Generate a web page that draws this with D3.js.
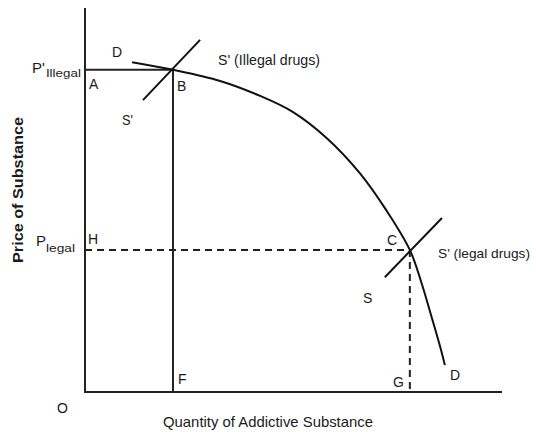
<!DOCTYPE html>
<html><head><meta charset="utf-8">
<script src="https://cdn.jsdelivr.net/npm/d3@7"></script>
<style>
body{margin:0;background:#fff;}
text{font-family:"Liberation Sans Narrow","Arial Narrow","Liberation Sans",Arial,sans-serif;fill:#1a1a1a;}
</style></head>
<body>
<svg id="c" width="536" height="432"></svg>
<script>
// Demand curve (quantity, price) in abstract units
const demandQ = [11.3, 21.1, 32.4, 42.0, 49.9, 58.0, 65.9, 72.4, 77.9, 80.7, 83.1, 85.4, 86.3];
const demandP = [85.9, 83.9, 81.0, 77.1, 72.9, 66.1, 57.0, 47.1, 37.0, 28.4, 19.6, 10.9, 7.0];
// Supply segments
const supplyIllegalQ = [13.9, 27.6];
const supplyIllegalP = [76.0, 91.7];
const supplyLegalQ = [71.9, 85.6];
const supplyLegalP = [29.9, 45.3];
// Equilibria
const pointB = {q: 21.1, p: 83.9};
const pointC = {q: 77.9, p: 37.0};

const svg = d3.select("#c");
const x = d3.scaleLinear().domain([0, 100]).range([85, 502]);
const y = d3.scaleLinear().domain([0, 100]).range([392, 8]);
const ink = "#222";

// axes
svg.append("line").attr("x1", x(0)).attr("x2", x(0)).attr("y1", y(100)).attr("y2", y(0))
  .attr("stroke", ink).attr("stroke-width", 2);
svg.append("line").attr("x1", x(0) - 1).attr("x2", x(100)).attr("y1", y(0)).attr("y2", y(0))
  .attr("stroke", ink).attr("stroke-width", 2);

// illegal price lines (solid)
svg.append("line").attr("x1", x(0)).attr("x2", x(pointB.q)).attr("y1", y(pointB.p)).attr("y2", y(pointB.p))
  .attr("stroke", ink).attr("stroke-width", 2);
svg.append("line").attr("x1", x(pointB.q)).attr("x2", x(pointB.q)).attr("y1", y(pointB.p)).attr("y2", y(0))
  .attr("stroke", ink).attr("stroke-width", 2);

// legal price lines (dashed)
svg.append("line").attr("x1", x(0)).attr("x2", x(pointC.q)).attr("y1", y(pointC.p)).attr("y2", y(pointC.p))
  .attr("stroke", ink).attr("stroke-width", 2).attr("stroke-dasharray", "7,5");
svg.append("line").attr("x1", x(pointC.q)).attr("x2", x(pointC.q)).attr("y1", y(pointC.p)).attr("y2", y(0))
  .attr("stroke", ink).attr("stroke-width", 2).attr("stroke-dasharray", "7,5");

// demand curve
const dem = demandQ.map((q, i) => [x(q), y(demandP[i])]);
svg.append("path").attr("d", d3.line().curve(d3.curveCatmullRom.alpha(0.5))(dem))
  .attr("fill", "none").attr("stroke", "#111").attr("stroke-width", 2);

// supply segments
const s1 = supplyIllegalQ.map((q, i) => [x(q), y(supplyIllegalP[i])]);
const s2 = supplyLegalQ.map((q, i) => [x(q), y(supplyLegalP[i])]);
[s1, s2].forEach(s => svg.append("path").attr("d", d3.line()(s))
  .attr("fill", "none").attr("stroke", "#111").attr("stroke-width", 2));

// labels
function t(txt, px, py, size, len) {
  const el = svg.append("text").attr("x", px).attr("y", py).attr("font-size", size || 14).text(txt);
  if (len) el.attr("textLength", len).attr("lengthAdjust", "spacingAndGlyphs");
  return el;
}
// P'Illegal
const p1 = svg.append("text").attr("x", 32).attr("y", 73).attr("font-size", 15);
p1.append("tspan").text("P'");
p1.append("tspan").attr("dy", 4).attr("dx", 1).attr("font-size", 10.5)
  .attr("textLength", 35).attr("lengthAdjust", "spacingAndGlyphs").text("Illegal");
const p2 = svg.append("text").attr("x", 36).attr("y", 246).attr("font-size", 15);
p2.append("tspan").text("P");
p2.append("tspan").attr("dy", 6).attr("font-size", 10.5)
  .attr("textLength", 29).attr("lengthAdjust", "spacingAndGlyphs").text("legal");

t("A", 89, 89);
t("B", 177, 91);
t("D", 112, 57);
t("S' (Illegal drugs)", 218, 65, 15, 102);
t("S'", 122, 125, 14, 11);
t("H", 88, 244);
t("C", 387, 245);
t("S' (legal drugs)", 438, 258, 13.5, 92);
t("S", 363, 303);
t("F", 178, 384);
t("G", 393, 387);
t("D", 450, 380);
t("O", 57, 413);
t("Quantity of Addictive Substance", 163, 427, 15, 210);
svg.append("text").attr("transform", "translate(23,263) rotate(-90)")
  .attr("font-size", 14).attr("font-weight", "bold")
  .attr("textLength", 146).attr("lengthAdjust", "spacingAndGlyphs").text("Price of Substance");
</script>
</body></html>
